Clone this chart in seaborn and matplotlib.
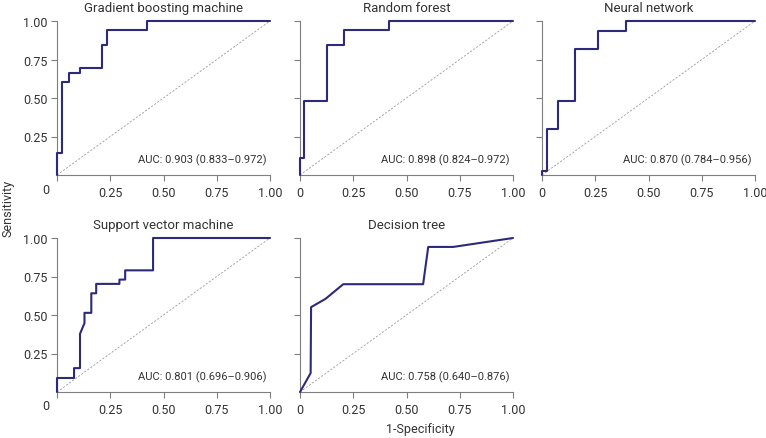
import matplotlib
matplotlib.use("Agg")
import matplotlib.pyplot as plt
import seaborn as sns
import pandas as pd

sns.set_theme(style="white")
plt.rcParams['font.family'] = ['Roboto', 'DejaVu Sans']

titles = ["Gradient boosting machine", "Random forest", "Neural network",
          "Support vector machine", "Decision tree"]
auc_labels = ["AUC: 0.903 (0.833\u20130.972)", "AUC: 0.898 (0.824\u20130.972)",
              "AUC: 0.870 (0.784\u20130.956)", "AUC: 0.801 (0.696\u20130.906)",
              "AUC: 0.758 (0.640\u20130.876)"]

gbm_fpr = [0, 0, 0.025, 0.025, 0.056, 0.056, 0.106, 0.106, 0.212, 0.212, 0.237, 0.237, 0.423, 0.423, 1]
gbm_tpr = [0, 0.146, 0.146, 0.602, 0.602, 0.665, 0.665, 0.693, 0.693, 0.841, 0.841, 0.939, 0.939, 1, 1]

rf_fpr = [0, 0, 0.020, 0.020, 0.125, 0.125, 0.208, 0.208, 0.419, 0.419, 1]
rf_tpr = [0, 0.113, 0.113, 0.478, 0.478, 0.841, 0.841, 0.939, 0.939, 1, 1]

nn_fpr = [0, 0, 0.023, 0.023, 0.073, 0.073, 0.156, 0.156, 0.2625, 0.2625, 0.394, 0.394, 1]
nn_tpr = [0, 0.026, 0.026, 0.30, 0.30, 0.478, 0.478, 0.817, 0.817, 0.937, 0.937, 1, 1]

svm_fpr = [0, 0, 0.080, 0.080, 0.108, 0.108, 0.129, 0.129, 0.161, 0.161, 0.184, 0.184,
           0.293, 0.293, 0.320, 0.320, 0.451, 0.451, 1]
svm_tpr = [0, 0.091, 0.091, 0.155, 0.155, 0.378, 0.447, 0.514, 0.514, 0.641, 0.641, 0.702,
           0.702, 0.730, 0.730, 0.790, 0.790, 1, 1]

dt_fpr = [0, 0.05, 0.052, 0.120, 0.203, 0.578, 0.602, 0.719, 1]
dt_tpr = [0, 0.123, 0.551, 0.605, 0.70, 0.70, 0.942, 0.942, 1]

curves = [(gbm_fpr, gbm_tpr), (rf_fpr, rf_tpr), (nn_fpr, nn_tpr),
          (svm_fpr, svm_tpr), (dt_fpr, dt_tpr)]

x_ticks = [0, 0.25, 0.5, 0.75, 1.0]
x_ticklabels = ["0", "0.25", "0.50", "0.75", "1.00"]
y_ticks = [0.25, 0.5, 0.75, 1.0]
y_ticklabels = ["0.25", "0.50", "0.75", "1.00"]

W, H = 766, 439
fig = plt.figure(figsize=(W / 100, H / 100), dpi=100)

lefts = [57, 300, 542]
tops = [22, 239]
aw, ah = 213, 154
positions = [(lefts[0], tops[0]), (lefts[1], tops[0]), (lefts[2], tops[0]),
             (lefts[0], tops[1]), (lefts[1], tops[1])]

line_color = "#2d2a7c"
spine_color = "#7f7f7f"
text_color = "#333333"

for i, ((px, py), (fpr, tpr)) in enumerate(zip(positions, curves)):
    ax = fig.add_axes([px / W, 1 - (py + ah) / H, aw / W, ah / H])
    ax.plot([0, 1], [0, 1], ls=(0, (2.5, 2)), color="#9a9a9a", lw=0.6, zorder=1)
    df = pd.DataFrame({"fpr": fpr, "tpr": tpr})
    sns.lineplot(data=df, x="fpr", y="tpr", sort=False, estimator=None,
                 color=line_color, lw=1.5, ax=ax, clip_on=False, zorder=3)
    ax.set_xlim(0, 1)
    ax.set_ylim(0, 1)
    ax.set_xlabel("")
    ax.set_ylabel("")
    for s in ["top", "right"]:
        ax.spines[s].set_visible(False)
    for s in ["left", "bottom"]:
        ax.spines[s].set_color(spine_color)
        ax.spines[s].set_linewidth(0.8)
    ax.set_xticks(x_ticks)
    ax.set_yticks(y_ticks)
    if px == lefts[0]:
        ax.set_yticklabels(y_ticklabels)
        ax.set_xticklabels([""] + x_ticklabels[1:])
        ax.annotate(x_ticklabels[0], xy=(0, 0), xycoords="axes fraction",
                    xytext=(-11, -7.5), textcoords="offset pixels",
                    ha="center", va="top", fontsize=9, color=text_color)
    else:
        ax.set_xticklabels(x_ticklabels)
        ax.set_yticklabels([])
    ax.tick_params(axis="both", length=4, width=0.8, color=spine_color,
                   labelsize=9, labelcolor=text_color, direction="out",
                   bottom=True, left=True)
    ax.tick_params(axis="x", pad=4)
    ax.tick_params(axis="y", pad=3)
    ax.set_title(titles[i], fontsize=9.5, color=text_color, pad=7)
    ax.text(0.985, 0.1, auc_labels[i], transform=ax.transAxes, ha="right",
            va="center", fontsize=8, color=text_color)

fig.text(8 / W, 1 - 208 / H, "Sensitivity", rotation=90, ha="center", va="center",
         fontsize=9, color=text_color)
fig.text(420 / W, 1 - 430 / H, "1-Specificity", ha="center", va="center",
         fontsize=9, color=text_color)

fig.savefig("out.png", dpi=100)
